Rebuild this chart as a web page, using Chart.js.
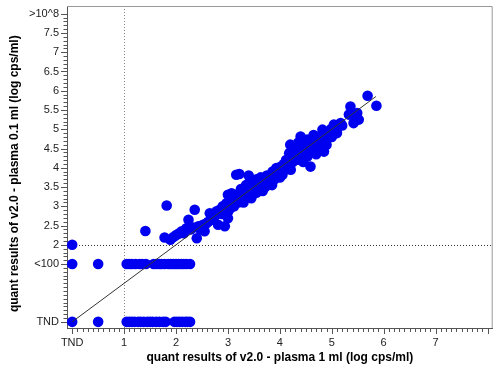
<!DOCTYPE html>
<html>
<head>
<meta charset="utf-8">
<script src="https://cdn.jsdelivr.net/npm/chart.js@4.4.1/dist/chart.umd.min.js"></script>
<style>
  html, body { margin: 0; padding: 0; background: #fff; }
</style>
</head>
<body>
<canvas id="chart" width="498" height="371"></canvas>
<script>
// rows below the quant range: TND (y = 0) and <100 (y = 1.5)
const tndRowX = [0, 0.5, 1.05, 1.1, 1.15, 1.2, 1.27, 1.32, 1.38, 1.45, 1.5, 1.55, 1.62, 1.68, 1.75, 1.8, 1.97, 2.02, 2.07, 2.12, 2.18, 2.22, 2.27];
const lt100RowX = [0, 0.5, 1.05, 1.1, 1.15, 1.22, 1.3, 1.35, 1.42, 1.57, 1.62, 1.68, 1.72, 1.78, 1.85, 1.9, 1.95, 2.0, 2.05, 2.1, 2.15, 2.2, 2.27];
const highRowX = [0];   // y = 2 at x = TND

// quantified on both
const quantX = [1.41, 1.78, 1.82, 1.89, 1.95, 2.0, 2.05, 2.11, 2.15, 2.2, 2.24, 2.28, 2.33, 2.36, 2.4, 2.43, 2.47, 2.52, 2.55, 2.58, 2.62,
  2.65, 2.7, 2.75, 2.78, 2.81, 2.84, 2.88, 2.9, 2.94, 2.97, 3.0, 3.0, 3.0, 3.03, 3.05, 3.07, 3.1, 3.12, 3.16, 3.15, 3.19, 3.2,
  3.22, 3.25, 3.28, 3.3, 3.32, 3.35, 3.38, 3.4, 3.4, 3.45, 3.45, 3.5, 3.55, 3.55, 3.6, 3.63, 3.67, 3.7, 3.72, 3.75, 3.78, 3.83, 3.85, 3.86, 3.9, 3.93, 3.96,
  4.0, 4.02, 4.05, 4.08, 4.1, 4.12, 4.15, 4.18, 4.2, 4.21, 4.22, 4.25, 4.28, 4.3, 4.34, 4.35, 4.35, 4.38, 4.4, 4.42, 4.44, 4.45, 4.46, 4.5, 4.53, 4.53, 4.56, 4.59, 4.6, 4.63,
  4.65, 4.66, 4.7, 4.7, 4.72, 4.75, 4.78, 4.82, 4.85, 4.86, 4.9, 4.9, 4.94, 4.98, 5.0, 5.04, 5.08, 5.1, 5.12, 5.17, 5.2,
  5.33, 5.36, 5.42, 5.45, 5.49, 5.52, 5.69, 5.86];
const quantY = [2.36, 2.19, 3.02, 2.13, 2.2, 2.25, 2.29, 2.35, 2.3, 2.43, 2.65, 2.4, 2.45, 2.91, 2.17, 2.48, 2.4, 2.52, 2.35, 2.55, 2.6,
  2.82, 2.65, 2.75, 2.87, 2.52, 2.91, 2.8, 3.0, 2.48, 3.08, 2.69, 2.85, 3.3, 3.08, 2.95, 3.34, 3.2, 3.0, 3.82, 3.3, 3.25, 3.1,
  3.84, 3.45, 3.35, 3.1, 3.43, 3.55, 3.3, 3.6, 3.8, 3.64, 3.21, 3.5, 3.7, 3.35, 3.55, 3.75, 3.4, 3.65, 3.5, 3.8, 3.6, 3.78, 3.55, 3.9, 3.7, 3.99, 3.85,
  3.75, 4.03, 3.82, 4.1, 3.95, 4.2, 4.05, 4.38, 4.6, 3.95, 4.3, 4.15, 4.47, 4.25, 4.21, 4.4, 4.65, 4.3, 4.81, 4.5, 4.55, 4.15, 4.35, 4.6, 4.29, 4.73, 4.45, 4.03, 4.55, 4.64,
  4.85, 4.5, 4.7, 4.35, 4.6, 4.8, 4.55, 4.99, 4.42, 4.75, 4.9, 4.6, 4.85, 5.0, 4.8, 5.12, 5.0, 4.9, 5.05, 5.16, 5.1,
  5.38, 5.59, 5.16, 5.3, 5.42, 5.25, 5.87, 5.61];

const fitX = [0, 5.85];
const fitY = [0, 5.85];
const refX = 1;   // dotted vertical
const refY = 2;   // dotted horizontal

const xTickValues = [0, 1, 2, 3, 4, 5, 6, 7];
const xTickLabels = ['TND', '1', '2', '3', '4', '5', '6', '7'];
const yTickValues = [0, 1.5, 2, 2.5, 3, 3.5, 4, 4.5, 5, 5.5, 6, 6.5, 7, 7.5, 8];
const yTickLabels = ['TND', '<100', '2', '2.5', '3', '3.5', '4', '4.5', '5', '5.5', '6', '6.5', '7', '7.5', '>10^8'];

const points = []
  .concat(tndRowX.map(x => ({x: x, y: 0})))
  .concat(lt100RowX.map(x => ({x: x, y: 1.5})))
  .concat(highRowX.map(x => ({x: x, y: 2})))
  .concat(quantX.map((x, i) => ({x: x, y: quantY[i]})));

const fitLine = fitX.map((x, i) => ({x: x, y: fitY[i]}));

// minor ticks, reference lines and box
const extras = {
  id: 'extras',
  beforeDatasetsDraw(chart) {
    const {ctx, chartArea: a, scales: {x, y}} = chart;
    ctx.save();
    ctx.lineWidth = 1;
    ctx.setLineDash([1, 2]);
    ctx.strokeStyle = '#888';
    const px = Math.round(x.getPixelForValue(refX)) + 0.5;
    ctx.beginPath(); ctx.moveTo(px, a.top); ctx.lineTo(px, a.bottom); ctx.stroke();
    ctx.strokeStyle = '#333';
    const py = Math.round(y.getPixelForValue(refY)) + 0.5;
    ctx.beginPath(); ctx.moveTo(a.left, py); ctx.lineTo(a.right, py); ctx.stroke();
    ctx.restore();
  },
  afterDraw(chart) {
    const {ctx, chartArea: a, scales: {x, y}} = chart;
    ctx.save();
    ctx.lineWidth = 1;
    ctx.strokeStyle = '#999';
    ctx.beginPath();
    ctx.moveTo(a.left, a.top + 0.5); ctx.lineTo(a.right - 0.5, a.top + 0.5); ctx.lineTo(a.right - 0.5, a.bottom);
    ctx.stroke();
    ctx.strokeStyle = '#555';
    ctx.beginPath();
    for (let i = 0; i <= 81; i++) {
      const px = Math.round(x.getPixelForValue(i / 10)) + 0.5;
      if (px > a.right) break;
      const len = i % 10 === 0 ? 6 : 4;
      ctx.moveTo(px, a.bottom); ctx.lineTo(px, a.bottom + len);
    }
    for (let i = 0; i <= 80; i++) {
      const py = Math.round(y.getPixelForValue(i / 10)) + 0.5;
      const major = yTickValues.some(v => Math.abs(v * 10 - i) < 0.01);
      const len = major ? 6 : 3.5;
      ctx.moveTo(a.left, py); ctx.lineTo(a.left - len, py);
    }
    ctx.stroke();
    ctx.restore();
  }
};

const tickFont = {family: 'Liberation Sans, Arial, sans-serif', size: 11};
const titleFont = {family: 'Liberation Sans, Arial, sans-serif', size: 12, weight: 'bold'};

new Chart(document.getElementById('chart'), {
  type: 'scatter',
  data: {
    datasets: [
      {
        type: 'line',
        data: fitLine,
        borderColor: '#333',
        borderWidth: 1,
        pointRadius: 0,
        order: 0
      },
      {
        data: points,
        backgroundColor: '#0000f0',
        borderWidth: 0,
        pointRadius: 5.3,
        order: 1
      }
    ]
  },
  options: {
    responsive: false,
    animation: false,
    layout: {padding: {top: 6, right: 3, left: 0, bottom: 0}},
    plugins: {legend: {display: false}, tooltip: {enabled: false}},
    scales: {
      x: {
        type: 'linear',
        min: -0.1,
        max: 8.1,
        afterBuildTicks: s => { s.ticks = xTickValues.map(v => ({value: v})); },
        afterFit: s => { s.height = 43; s.paddingLeft = 0; s.paddingRight = 0; },
        grid: {drawOnChartArea: false, drawTicks: false},
        border: {color: '#555'},
        ticks: {
          padding: 8,
          autoSkip: false,
          maxRotation: 0,
          color: '#222',
          font: tickFont,
          callback: (v, i) => xTickLabels[i]
        },
        title: {
          display: true,
          text: 'quant results of v2.0 - plasma 1 ml (log cps/ml)',
          color: '#000',
          font: titleFont,
          padding: {top: 0, bottom: 6}
        }
      },
      y: {
        type: 'linear',
        min: -0.16,
        max: 8.2,
        afterBuildTicks: s => { s.ticks = yTickValues.map(v => ({value: v})); },
        afterFit: s => { s.width = 67; s.paddingTop = 0; s.paddingBottom = 0; },
        grid: {drawOnChartArea: false, drawTicks: false},
        border: {color: '#555'},
        ticks: {
          padding: 8,
          autoSkip: false,
          color: '#222',
          font: tickFont,
          callback: (v, i) => yTickLabels[i]
        },
        title: {
          display: true,
          text: 'quant results of v2.0 - plasma 0.1 ml (log cps/ml)    ',
          color: '#000',
          font: titleFont,
          padding: {top: 7, bottom: 0}
        }
      }
    }
  },
  plugins: [extras]
});
</script>
</body>
</html>
